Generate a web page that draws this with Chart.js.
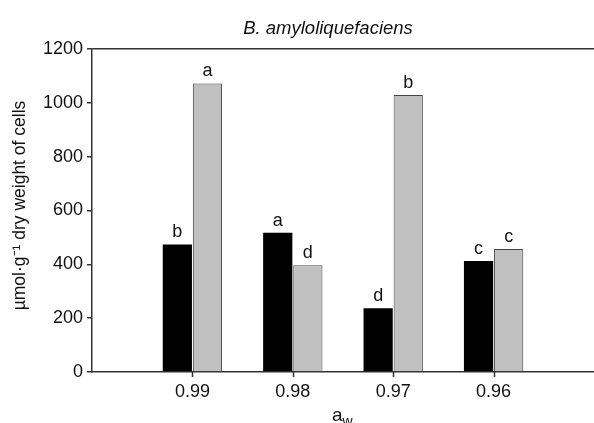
<!DOCTYPE html>
<html>
<head>
<meta charset="utf-8">
<script src="https://cdn.jsdelivr.net/npm/chart.js@4.4.0/dist/chart.umd.min.js"></script>
<style>
  html, body { margin: 0; padding: 0; background: #fff; overflow: hidden; }
  #wrap { width: 594px; height: 423px; position: relative; }
</style>
</head>
<body>
<div id="wrap"><canvas id="chart"></canvas></div>
<script>
// data
const categories = ['', '0.99', '0.98', '0.97', '0.96', ''];
const blackValues = [null, 474, 517, 237, 412, null];
const grayValues = [null, 1072, 397, 1029, 457, null];
const blackLetters = ['', 'b', 'a', 'd', 'c', ''];
const grayLetters = ['', 'a', 'd', 'b', 'c', ''];
const yTicks = [0, 200, 400, 600, 800, 1000, 1200];

const titleText = 'B. amyloliquefaciens';
const yTitle = 'µmol·g⁻¹ dry weight of cells';

const FONT = "'Liberation Sans', Arial, sans-serif";
const AXIS = '#333';

// letters above bars, titles, and the little tick marks under the categories
const annotate = {
    id: 'annotate',
    afterDraw(chart) {
        const ctx = chart.ctx;
        const area = chart.chartArea;
        const xScale = chart.scales.x;
        ctx.save();

        // category tick marks
        ctx.strokeStyle = AXIS;
        ctx.lineWidth = 1.5;
        categories.forEach((lab, i) => {
            if (!lab) return;
            const px = Math.round(xScale.getPixelForTick(i)) + 0.5;
            ctx.beginPath();
            ctx.moveTo(px, area.bottom);
            ctx.lineTo(px, area.bottom + 5);
            ctx.stroke();
        });

        ctx.fillStyle = '#111';
        ctx.textAlign = 'center';
        ctx.textBaseline = 'alphabetic';
        ctx.font = '18px ' + FONT;
        [blackLetters, grayLetters].forEach((letters, di) => {
            const meta = chart.getDatasetMeta(di);
            meta.data.forEach((bar, i) => {
                if (!letters[i]) return;
                ctx.fillText(letters[i], bar.x, bar.y - 7);
            });
        });

        // title
        ctx.font = 'italic 18.5px ' + FONT;
        ctx.fillText(titleText, (area.left + area.right) / 2 - 15, 34);

        // y title
        ctx.save();
        ctx.translate(20, (area.top + area.bottom) / 2 - 5);
        ctx.rotate(-Math.PI / 2);
        ctx.textBaseline = 'middle';
        ctx.font = '17.5px ' + FONT;
        ctx.fillText(yTitle, 0, 0);
        ctx.restore();

        // x title a_w
        ctx.textAlign = 'left';
        ctx.font = '19px ' + FONT;
        const ax = 332;
        const ay = 421;
        ctx.fillText('a', ax, ay);
        const aw = ctx.measureText('a').width;
        ctx.font = '14px ' + FONT;
        ctx.fillText('w', ax + aw, ay + 5);
        ctx.restore();
    }
};

new Chart(document.getElementById('chart'), {
    type: 'bar',
    data: {
        labels: categories,
        datasets: [
            {
                data: blackValues,
                backgroundColor: '#000',
                borderColor: '#000',
                borderWidth: 0
            },
            {
                data: grayValues,
                backgroundColor: '#c0c0c0',
                borderColor: '#444',
                borderWidth: 1
            }
        ]
    },
    options: {
        responsive: true,
        maintainAspectRatio: false,
        animation: false,
        layout: { padding: { top: 49, right: 0, left: 0, bottom: 0 } },
        datasets: {
            bar: { categoryPercentage: 0.6, barPercentage: 0.97 }
        },
        plugins: {
            legend: { display: false },
            tooltip: { enabled: false },
            title: { display: false }
        },
        scales: {
            x: {
                offset: false,
                grid: {
                    offset: false,
                    drawOnChartArea: false,
                    drawTicks: true,
                    tickLength: 9,
                    tickColor: 'rgba(0,0,0,0)'
                },
                border: { display: true, color: AXIS, width: 1.5 },
                ticks: {
                    color: '#111',
                    font: { family: FONT, size: 18 },
                    padding: 0,
                    maxRotation: 0,
                    autoSkip: false
                },
                afterFit(scale) { scale.height = 51; }
            },
            y: {
                min: 0,
                max: 1200,
                afterBuildTicks(scale) {
                    scale.ticks = yTicks.map(v => ({ value: v }));
                },
                grid: {
                    color: (c) => (c.tick && c.tick.value === 1200) ? AXIS : 'rgba(0,0,0,0)',
                    lineWidth: 1.5,
                    tickColor: AXIS,
                    tickWidth: 1.5,
                    tickLength: 5,
                    drawTicks: true
                },
                border: { display: true, color: AXIS, width: 1.5 },
                ticks: {
                    color: '#111',
                    font: { family: FONT, size: 18 },
                    padding: 4,
                    callback: (v) => String(v)
                },
                afterFit(scale) { scale.width = 92; }
            }
        }
    },
    plugins: [annotate]
});
</script>
</body>
</html>
